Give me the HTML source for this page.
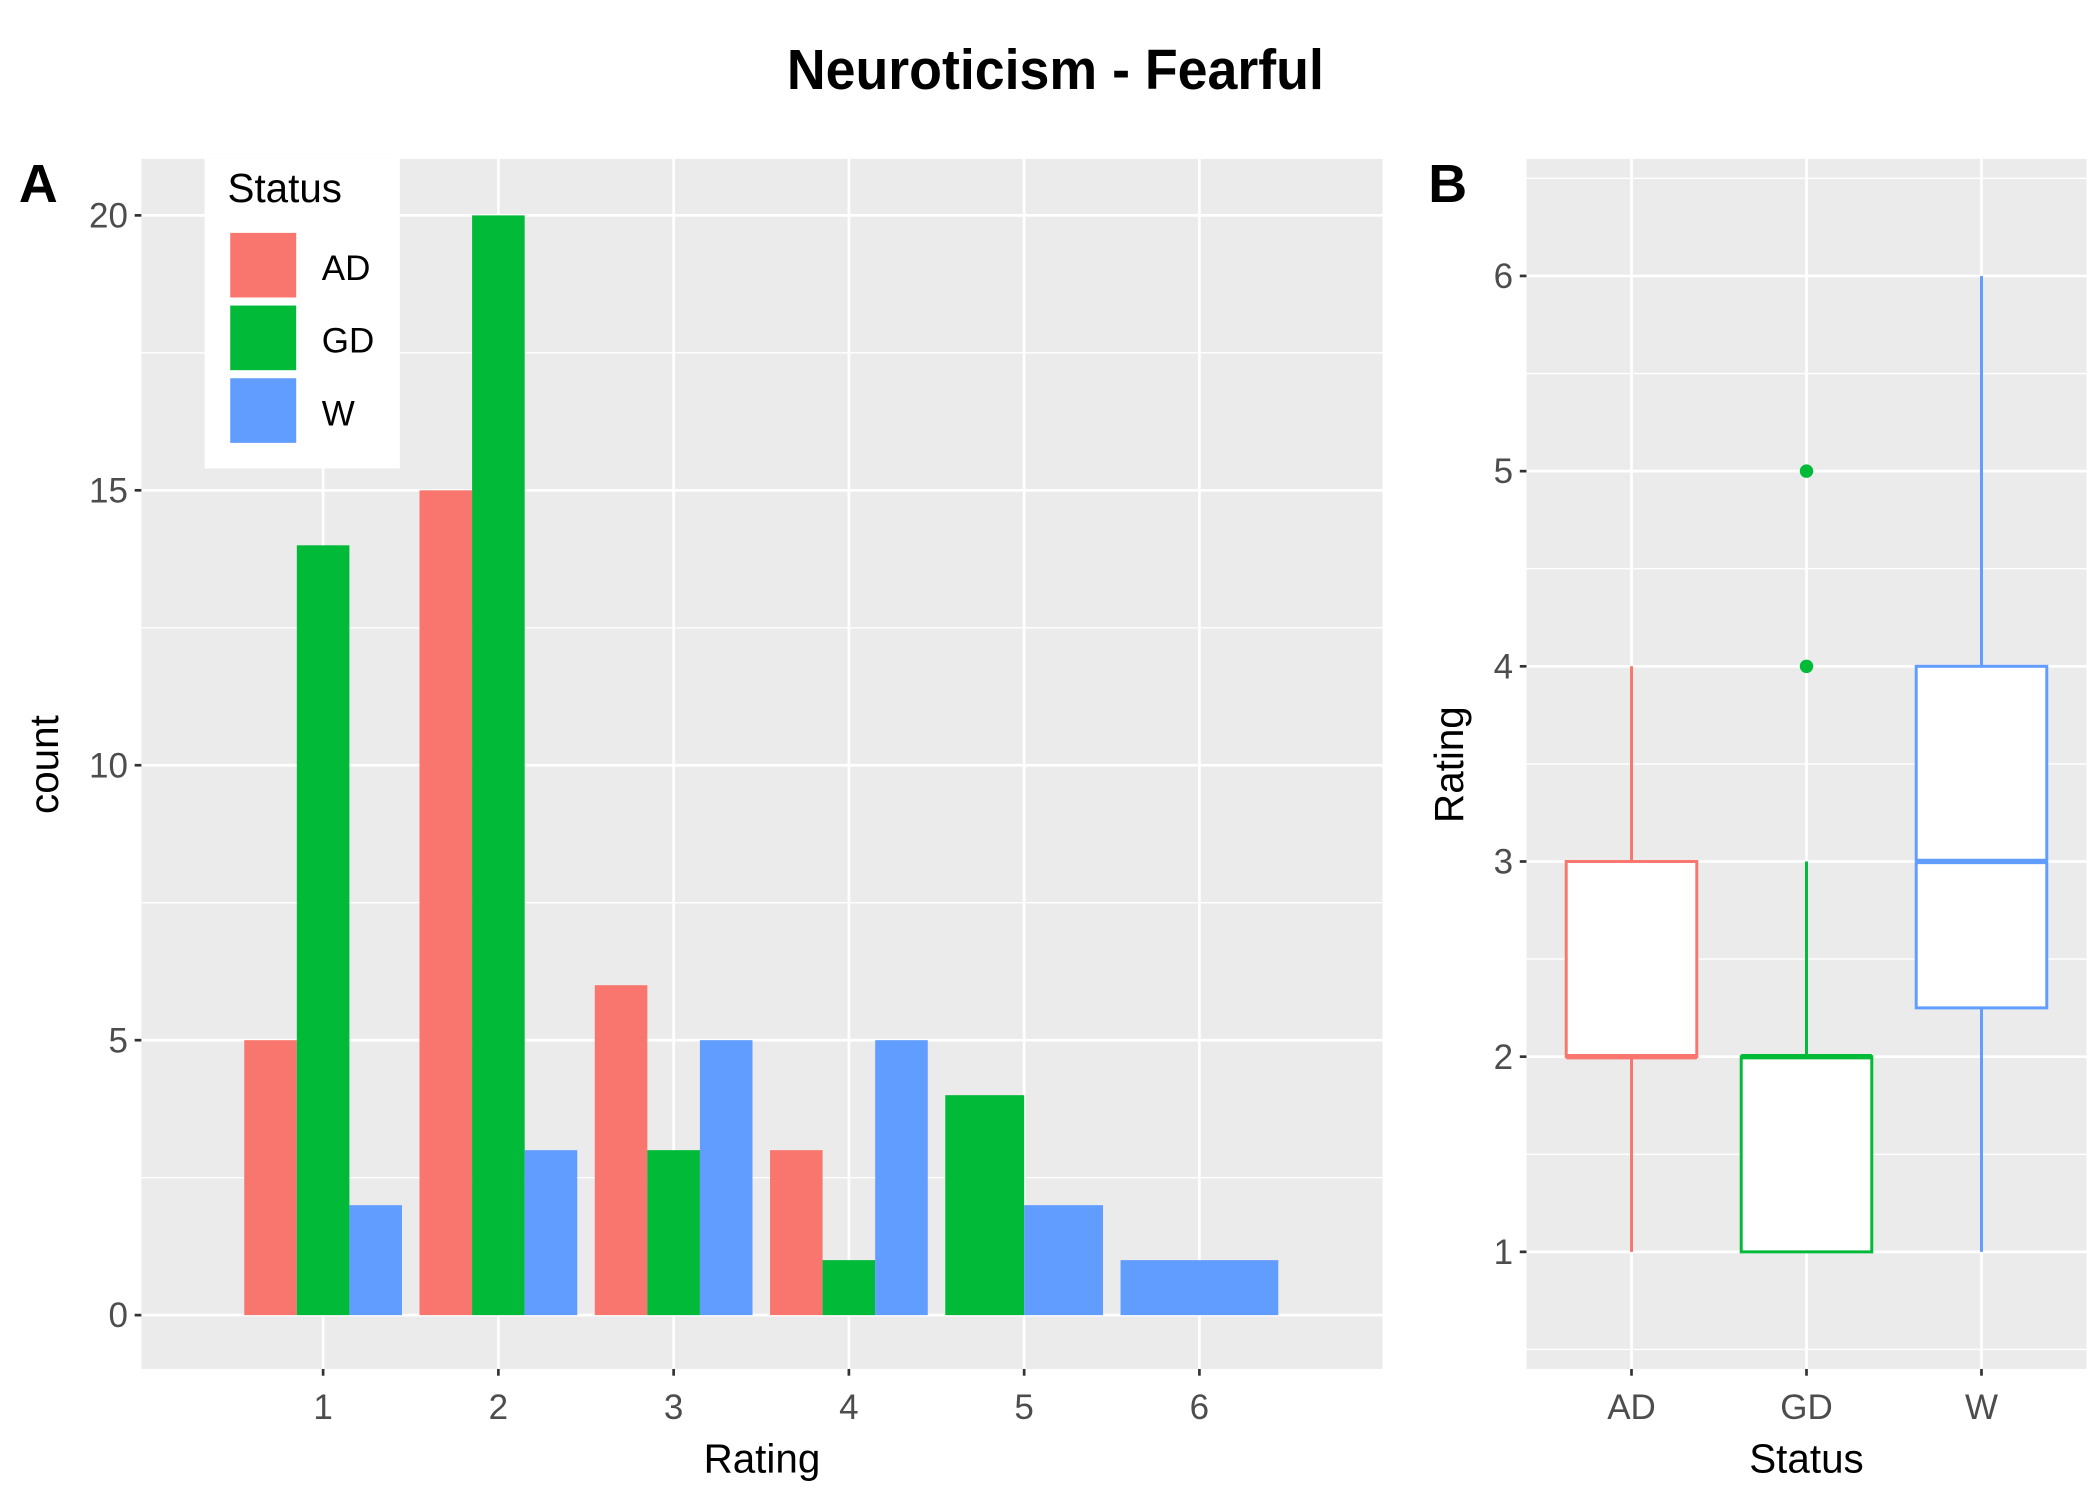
<!DOCTYPE html>
<html><head><meta charset="utf-8"><style>
html,body{margin:0;padding:0;background:#fff;}
svg{display:block;font-family:"Liberation Sans",Arial,sans-serif;}
</style></head><body>
<svg id="chart" width="2100" height="1499" viewBox="0 0 1560 1113.6" xmlns="http://www.w3.org/2000/svg">
<text x="784" y="66" text-anchor="middle" font-size="42" font-weight="bold" transform="translate(784 0) scale(0.95 1) translate(-784 0)">Neuroticism - Fearful</text>
<text x="14" y="150" font-size="40" font-weight="bold">A</text>
<text x="1061" y="150" font-size="40" font-weight="bold">B</text>
<g id="pa"></g>
<g id="pb"></g>
</svg>
<script>
const ratings = [1,2,3,4,5,6];
const countsAD = [5,15,6,3,0,0];
const countsGD = [14,20,3,1,4,0];
const countsW = [2,3,5,5,2,1];
const countTicks = [0,5,10,15,20];
const groups = ["AD","GD","W"];
const colors = ["#F8766D","#00BA38","#619CFF"];
// boxplot stats: [whiskerLow, q1, median, q3, whiskerHigh]
const boxAD = [1,2,2,3,4];
const boxGD = [1,1,2,2,3];
const boxW = [1,2.25,3,4,6];
const outliersGD = [4,5];
const ratingTicks = [1,2,3,4,5,6];

const NS="http://www.w3.org/2000/svg";
function mk(parent,tag,attrs,text){const e=document.createElementNS(NS,tag);for(const k in attrs)e.setAttribute(k,attrs[k]);if(text!==undefined)e.textContent=text;parent.appendChild(e);return e;}
const TF=26, AF=30;

// Panel A
const pa=document.getElementById('pa');
const A={x0:105,x1:1027,y0:118,y1:1017};
const xA=v=>240+(v-1)*130.2;
const yA=v=>977-v*40.85;
let bg=mk(pa,'rect',{x:A.x0,y:A.y0,width:A.x1-A.x0,height:A.y1-A.y0,fill:'#EBEBEB'});

for(let v=2.5;v<=22.5;v+=5){const y=yA(v);if(y<A.y0)continue;const l=mk(pa,'line',{x1:A.x0,x2:A.x1,y1:y,y2:y,stroke:'#fff','stroke-width':1});}
countTicks.forEach(v=>{const y=yA(v);const l=mk(pa,'line',{x1:A.x0,x2:A.x1,y1:y,y2:y,stroke:'#fff','stroke-width':2});
 const t=mk(pa,'line',{x1:A.x0-5,x2:A.x0,y1:y,y2:y,stroke:'#333','stroke-width':2});
 const tx=mk(pa,'text',{x:A.x0-10,y:y+9,'text-anchor':'end','font-size':TF,fill:'#4D4D4D'},String(v));});
ratings.forEach(v=>{const x=xA(v);const l=mk(pa,'line',{x1:x,x2:x,y1:A.y0,y2:A.y1,stroke:'#fff','stroke-width':2});
 const t=mk(pa,'line',{x1:x,x2:x,y1:A.y1,y2:A.y1+5,stroke:'#333','stroke-width':2});
 const tx=mk(pa,'text',{x:x,y:1054,'text-anchor':'middle','font-size':TF,fill:'#4D4D4D'},String(v));});
const series=[countsAD,countsGD,countsW];
ratings.forEach((r,i)=>{
 const present=[0,1,2].filter(g=>series[g][i]>0);
 const w=0.9/present.length;
 present.forEach((g,j)=>{
  const left=r-0.45+j*w;const val=series[g][i];
  const b=mk(pa,'rect',{x:xA(left),y:yA(val),width:w*130.2,height:yA(0)-yA(val),fill:colors[g]});
  
  
 });
});
let t1=mk(pa,'text',{x:566,y:1094,'text-anchor':'middle','font-size':AF},'Rating');
let t2=mk(pa,'text',{x:43,y:568,'text-anchor':'middle','font-size':AF,transform:'rotate(-90 43 568)'},'count');
// legend
let lg=mk(pa,'g',{});
let lb=mk(lg,'rect',{x:152,y:118,width:145,height:230,fill:'#fff'});
let lt=mk(lg,'text',{x:169,y:150,'font-size':AF},'Status');
groups.forEach((g,i)=>{const y=173+i*54;
 const k=mk(lg,'rect',{x:171,y:y,width:49,height:48,fill:colors[i]});
 const tx=mk(lg,'text',{x:239,y:y+35,'font-size':TF},g);});

// Panel B
const pb=document.getElementById('pb');
const B={x0:1134,x1:1550,y0:118,y1:1017};
const yB=v=>930-(v-1)*145;
const xB=i=>1212+i*130;
let bg2=mk(pb,'rect',{x:B.x0,y:B.y0,width:B.x1-B.x0,height:B.y1-B.y0,fill:'#EBEBEB'});
for(let v=0.5;v<=6.5;v+=1){const y=yB(v);if(y<B.y0||y>B.y1)continue;const l=mk(pb,'line',{x1:B.x0,x2:B.x1,y1:y,y2:y,stroke:'#fff','stroke-width':1});}
ratingTicks.forEach(v=>{const y=yB(v);const l=mk(pb,'line',{x1:B.x0,x2:B.x1,y1:y,y2:y,stroke:'#fff','stroke-width':2});
 const t=mk(pb,'line',{x1:B.x0-5,x2:B.x0,y1:y,y2:y,stroke:'#333','stroke-width':2});
 const tx=mk(pb,'text',{x:B.x0-10,y:y+9,'text-anchor':'end','font-size':TF,fill:'#4D4D4D'},String(v));});
groups.forEach((g,i)=>{const x=xB(i);const l=mk(pb,'line',{x1:x,x2:x,y1:B.y0,y2:B.y1,stroke:'#fff','stroke-width':2});
 const t=mk(pb,'line',{x1:x,x2:x,y1:B.y1,y2:B.y1+5,stroke:'#333','stroke-width':2});
 const tx=mk(pb,'text',{x:x,y:1054,'text-anchor':'middle','font-size':TF,fill:'#4D4D4D'},g);});
const boxes=[boxAD,boxGD,boxW];
boxes.forEach((s,i)=>{const x=xB(i);const c=colors[i];
 const grp=mk(pb,'g',{});
 mk(grp,'line',{x1:x,x2:x,y1:yB(s[0]),y2:yB(s[1]),stroke:c,'stroke-width':2.2});
 mk(grp,'line',{x1:x,x2:x,y1:yB(s[3]),y2:yB(s[4]),stroke:c,'stroke-width':2.2});
 mk(grp,'rect',{x:x-48.5,y:yB(s[3]),width:97,height:yB(s[1])-yB(s[3]),fill:'#fff',stroke:c,'stroke-width':2.2});
 mk(grp,'line',{x1:x-48.5,x2:x+48.5,y1:yB(s[2]),y2:yB(s[2]),stroke:c,'stroke-width':4});
});
outliersGD.forEach(v=>{const p=mk(pb,'circle',{cx:xB(1),cy:yB(v),r:5,fill:colors[1]});});
let t3=mk(pb,'text',{x:1342,y:1094,'text-anchor':'middle','font-size':AF},'Status');
let t4=mk(pb,'text',{x:1087,y:568,'text-anchor':'middle','font-size':AF,transform:'rotate(-90 1087 568)'},'Rating');
</script>
</body></html>
